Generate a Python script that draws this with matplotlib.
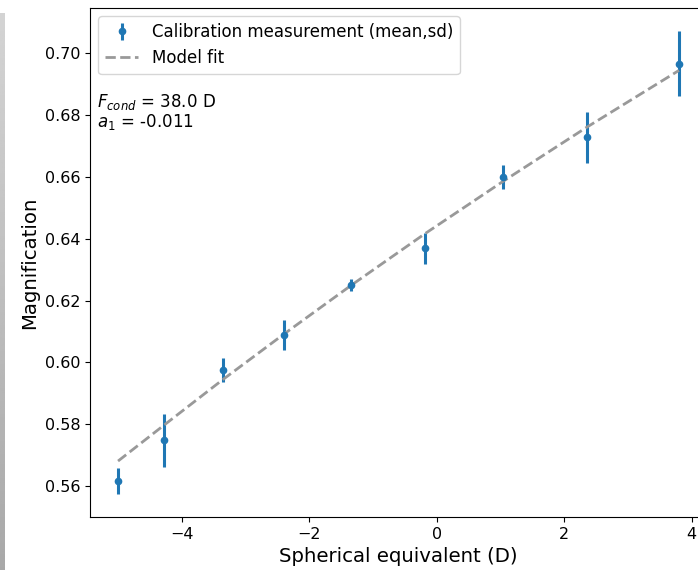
import numpy as np
import matplotlib
matplotlib.use("Agg")
import matplotlib.pyplot as plt

# Data
se = [-5.0, -4.28, -3.36, -2.39, -1.34, -0.19, 1.04, 2.36, 3.80]
mag_mean = [0.5615, 0.5748, 0.5975, 0.6088, 0.6250, 0.6370, 0.6600, 0.6728, 0.6967]
mag_sd = [0.0042, 0.0086, 0.0039, 0.0049, 0.0019, 0.0050, 0.0039, 0.0083, 0.0104]
# model-fit curve, read at the measurement positions
fit_x = [-5.0, -4.28, -3.36, -2.39, -1.34, -0.19, 1.04, 2.36, 3.80]
fit_y = [0.5681, 0.5797, 0.5944, 0.6093, 0.6250, 0.6416, 0.6586, 0.6762, 0.6945]
f_cond = 38.0
a1 = -0.011

W, H = 698, 570
fig = plt.figure(figsize=(W / 100, H / 100), dpi=100)

# screenshot strip on the left edge
strip = fig.add_axes([0, 0, 5 / W, (H - 13) / H])
grad = np.linspace(0.83, 0.66, 256).reshape(-1, 1)
strip.imshow(grad, aspect="auto", cmap="gray", vmin=0, vmax=1, extent=[0, 1, 0, 1], origin="upper")
strip.set_axis_off()

ax = fig.add_axes([90 / W, (H - 517) / H, (707 - 90) / W, (517 - 8) / H])
eb = ax.errorbar(se, mag_mean, yerr=mag_sd, fmt="o", color="#1f77b4", markersize=4.5,
                 elinewidth=2.2, capsize=0, label="Calibration measurement (mean,sd)")
ln, = ax.plot(fit_x, fit_y, "--", color="#999999", linewidth=2, label="Model fit")

ax.set_xlabel("Spherical equivalent (D)", fontsize=14.2)
ax.set_ylabel("Magnification", fontsize=14.2)
ax.tick_params(labelsize=11.5)
ax.set_xticks([-4, -2, 0, 2, 4])
ax.set_xticklabels(["\u22124", "\u22122", "0", "2", "4"])
ax.set_yticks(np.arange(0.56, 0.701, 0.02))
ax.set_yticklabels([f"{v:.2f}" for v in np.arange(0.56, 0.701, 0.02)])
ax.set_xlim(-5.44, 4.24)
ax.set_ylim(0.5500, 0.7147)

ax.legend(handles=[eb, ln], loc="upper left", fontsize=12)
ax.text(0.012, 0.835, f"$F_{{cond}}$ = {f_cond:.1f} D\n$a_1$ = {a1:.3f}",
        transform=ax.transAxes, fontsize=12, va="top", ha="left", linespacing=1.0)

fig.savefig("out.png", dpi=100)
